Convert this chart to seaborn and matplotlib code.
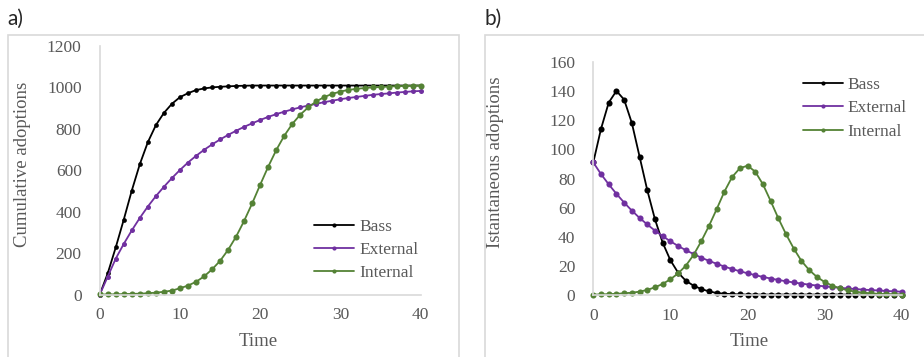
import pandas as pd
import matplotlib
matplotlib.use("Agg")
import matplotlib.pyplot as plt
import matplotlib.patches as patches
import seaborn as sns

# values
time = list(range(41))

bass_cum = [0, 103, 228, 362, 502, 629, 735, 817, 876, 920,
            952, 971, 986, 994, 999, 1002, 1004, 1006, 1007, 1008,
            1008, 1008, 1008, 1008, 1008, 1008, 1008, 1008, 1008, 1008,
            1008, 1008, 1008, 1008, 1008, 1008, 1008, 1008, 1008, 1008,
            1008]
external_cum = [0, 87, 174, 245, 310, 370, 425, 475, 520, 562,
                601, 637, 669, 698, 724, 748, 770, 790, 809, 826,
                842, 857, 870, 882, 893, 903, 912, 920, 928, 935,
                942, 948, 953, 958, 963, 967, 970, 974, 977, 980,
                982]
internal_cum = [1, 1, 2, 3, 4, 5, 7, 10, 14, 20,
                31, 44, 62, 88, 122, 163, 216, 280, 356, 440,
                530, 617, 697, 766, 823, 868, 903, 932, 953, 968,
                979, 987, 992, 996, 999, 1001, 1003, 1005, 1006, 1007,
                1008]

bass_inst = [91, 114, 132, 140, 134, 118, 95, 72, 52, 36,
             24, 15.5, 10, 6.6, 4.3, 2.7, 1.6, 1.1, 0.8, 0.6,
             0.5, 0.5, 0.5, 0.5, 0.5, 0.5, 0.5, 0.5, 0.5, 0.5,
             0.5, 0.5, 0.5, 0.5, 0.5, 0.5, 0.5, 0.5, 0.5, 0.5,
             0.5]
external_inst = [91, 83, 76, 69.5, 63.5, 58, 53, 48.5, 44.3, 40.5,
                 37, 33.8, 30.9, 28.3, 25.8, 23.6, 21.6, 19.7, 18, 16.5,
                 15.1, 13.8, 12.6, 11.5, 10.5, 9.6, 8.8, 8, 7.3, 6.7,
                 6.1, 5.6, 5.1, 4.7, 4.3, 3.9, 3.6, 3.3, 3, 2.7,
                 2.5]
internal_inst = [0.5, 0.6, 0.8, 1.0, 1.4, 1.8, 2.5, 3.7, 5.5, 7.8,
                 11, 15, 20.3, 27.6, 37, 47.5, 59, 71, 81, 87,
                 88.8, 84.7, 76, 64.6, 52.7, 41.8, 32, 23.5, 17.3, 12.6,
                 9.1, 6.6, 4.8, 3.4, 2.5, 1.8, 1.4, 1.0, 0.8, 0.6,
                 0.5]

names = ["Bass", "External", "Internal"]
colors = {"Bass": "#000000", "External": "#7030A0", "Internal": "#548235"}
gray = "#595959"
spine_gray = "#d9d9d9"

sns.set_style("white")
plt.rcParams["font.family"] = ["Liberation Serif", "DejaVu Serif"]

fig = plt.figure(figsize=(9.24, 3.57), dpi=100)

# panel frames
fig.patches.append(patches.Rectangle((8 / 924, -0.1), (459 - 8) / 924, 1.1 - 35 / 357,
                                     transform=fig.transFigure, fill=False,
                                     edgecolor=spine_gray, lw=1.2))
fig.patches.append(patches.Rectangle((485 / 924, -0.1), 0.5, 1.1 - 35 / 357,
                                     transform=fig.transFigure, fill=False,
                                     edgecolor=spine_gray, lw=1.2))
fig.text(7 / 924, 1 - 19 / 357, "a)", family=["Lato", "DejaVu Sans"], fontsize=15, va="center")
fig.text(485 / 924, 1 - 19 / 357, "b)", family=["Lato", "DejaVu Sans"], fontsize=15, va="center")

ax_a = fig.add_axes([0.1079, 0.1745, 0.3474, 0.6975])
ax_b = fig.add_axes([0.6421, 0.1728, 0.3338, 0.6544])


def draw(ax, series, ms):
    for name, vals in zip(names, series):
        df = pd.DataFrame({"Time": time, "val": vals})
        sns.lineplot(data=df, x="Time", y="val", ax=ax, color=colors[name],
                     marker="o", markersize=ms[name], markeredgewidth=0,
                     linewidth=1.3, label=name)


draw(ax_a, [bass_cum, external_cum, internal_cum],
     {"Bass": 3.4, "External": 3.6, "Internal": 4.4})
draw(ax_b, [bass_inst, external_inst, internal_inst],
     {"Bass": 4.4, "External": 4.4, "Internal": 4.4})

ax_a.set_xlim(0, 40)
ax_a.set_ylim(0, 1200)
ax_a.set_yticks(range(0, 1201, 200))
ax_b.set_xlim(0, 40)
ax_b.set_ylim(0, 160)
ax_b.set_yticks(range(0, 161, 20))

for ax in (ax_a, ax_b):
    ax.set_xticks(range(0, 41, 10))
    for s in ["top", "right"]:
        ax.spines[s].set_visible(False)
    for s in ["left", "bottom"]:
        ax.spines[s].set_color(spine_gray)
        ax.spines[s].set_linewidth(1.2)
    ax.tick_params(axis="both", length=0, labelsize=12.5, labelcolor=gray)
    ax.tick_params(axis="y", pad=13)
    ax.tick_params(axis="x", pad=9)
    ax.set_xlabel("Time", fontsize=13.5, color=gray)
    ax.patch.set_alpha(0)
    for ln in ax.get_lines():
        ln.set_clip_on(False)

ax_a.set_ylabel("Cumulative adoptions", fontsize=13.5, color=gray)
ax_b.set_ylabel("Istantaneous adoptions", fontsize=13.5, color=gray)
ax_a.yaxis.set_label_coords(-0.215, 0.525)
ax_b.yaxis.set_label_coords(-0.29, 0.57)
ax_a.xaxis.set_label_coords(0.493, -0.152)
ax_b.xaxis.set_label_coords(0.505, -0.16)

leg_a = ax_a.legend(loc="center left", bbox_to_anchor=(0.62, 0.18), frameon=False,
                    fontsize=12.5, handlelength=2.3, handletextpad=0.3,
                    labelspacing=0.4, labelcolor=gray)
leg_b = ax_b.legend(loc="center left", bbox_to_anchor=(0.628, 0.80), frameon=False,
                    fontsize=12.5, handlelength=2.3, handletextpad=0.3,
                    labelspacing=0.4, labelcolor=gray)
for leg in (leg_a, leg_b):
    for h in leg.legend_handles:
        h.set_markersize(3)

fig.savefig("out.png", dpi=100)
